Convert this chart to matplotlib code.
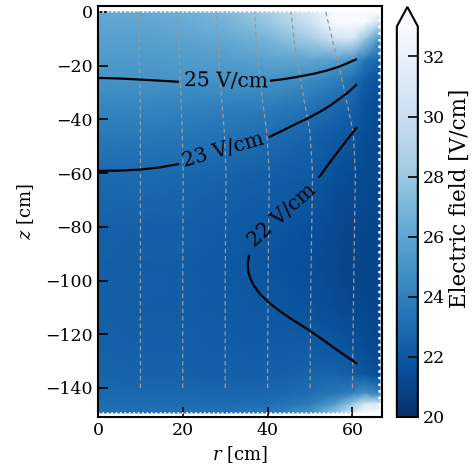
import numpy as np
import matplotlib
matplotlib.use('Agg')
import matplotlib.pyplot as plt

plt.rcParams['font.family'] = 'DejaVu Serif'
plt.rcParams['mathtext.fontset'] = 'dejavuserif'
plt.rcParams['font.size'] = 13

# grid nodes of the field map (cm)
r_nodes = [0, 10, 20, 30, 40, 50, 56, 60, 63, 66.5]
z_nodes = [0, -4, -10, -18, -25, -35, -45, -60, -80, -95, -110, -125, -135, -142, -146, -149.3]

# field values (V/cm), one list per r node, top to bottom in z
e_r0 = [26.2, 26.0, 25.7, 25.3, 25.0, 24.3, 23.7, 22.9, 22.5, 22.4, 22.4, 22.5, 22.6, 22.8, 23.0, 23.3]
e_r10 = [26.2, 26.0, 25.7, 25.3, 25.0, 24.3, 23.7, 22.95, 22.45, 22.35, 22.35, 22.45, 22.55, 22.8, 23.0, 23.3]
e_r20 = [26.5, 26.3, 25.9, 25.4, 25.0, 24.2, 23.6, 22.8, 22.4, 22.3, 22.3, 22.4, 22.5, 22.8, 23.0, 23.4]
e_r30 = [27.1, 26.8, 26.2, 25.5, 25.0, 24.0, 23.4, 22.6, 22.2, 22.1, 22.15, 22.3, 22.4, 22.7, 23.0, 23.4]
e_r40 = [28.4, 27.9, 26.9, 25.8, 25.0, 23.9, 23.1, 22.4, 22.0, 21.85, 22.05, 22.2, 22.4, 22.7, 23.1, 23.7]
e_r50 = [31.0, 30.3, 28.4, 26.0, 24.6, 23.4, 22.6, 22.15, 21.6, 21.5, 21.7, 22.2, 22.6, 23.1, 23.8, 25.0]
e_r56 = [34.0, 33.5, 30.5, 25.7, 24.0, 22.8, 22.2, 21.6, 21.3, 21.2, 21.4, 21.95, 22.6, 23.6, 25.5, 28.0]
e_r60 = [35.0, 34.5, 31.0, 25.0, 23.25, 22.5, 21.95, 21.4, 21.1, 21.0, 21.2, 21.7, 22.3, 24.0, 28.0, 31.0]
e_r63 = [35.0, 33.0, 28.0, 23.6, 22.3, 21.8, 21.5, 21.3, 21.2, 21.1, 21.2, 21.4, 21.9, 25.0, 31.0, 33.0]
e_r66 = [33.0, 30.0, 25.0, 22.6, 21.7, 21.4, 21.3, 21.2, 21.1, 21.1, 21.1, 21.2, 21.5, 24.0, 31.0, 33.0]

# contour lines (label gaps split each line)
c25_left_r = [0, 5, 10, 14.5, 18.8]
c25_left_z = [-24.6, -24.8, -25.2, -25.6, -26.0]
c25_right_r = [40.8, 43.5, 46.3, 48.7, 51, 53.8, 56.5, 58.7, 60.8]
c25_right_z = [-25.6, -25.1, -24.4, -23.7, -23.0, -21.9, -20.6, -19.2, -17.7]
c23_left_r = [0, 5, 9.9, 14.5, 18.9]
c23_left_z = [-59.2, -59.1, -58.7, -57.9, -56.7]
c23_right_r = [40.5, 43.5, 46.7, 50, 53, 55, 57, 59, 60.9]
c23_right_z = [-46.5, -44.2, -41.7, -39.2, -36.6, -34.6, -32.3, -29.9, -27.2]
c22_up_r = [60.9, 58.7, 56.5, 54.3, 52.2]
c22_up_z = [-43.2, -47.7, -52.2, -56.8, -61.4]
c22_low_r = [35.6, 35.3, 35.5, 36.0, 36.8, 38.2, 40.5, 43.0, 45.2, 49.1, 53, 56.5, 60.9]
c22_low_z = [-90.8, -94, -97, -99.5, -102, -105, -108.5, -111.5, -113.9, -117.8, -122, -126, -130.8]

# drift paths (gray dashed)
path_z = [-140, -100, -60, -45, -33, -20, -10, 0]
path_r10 = [10, 10.0, 10.0, 10.0, 10.0, 9.8, 9.7, 9.6]
path_r20 = [20, 20.0, 20.1, 19.9, 19.6, 19.3, 19.0, 18.8]
path_r30 = [30, 30.0, 30.2, 29.8, 29.2, 28.6, 28.3, 28.0]
path_r40 = [40, 40.1, 40.4, 39.8, 38.8, 37.9, 37.3, 36.9]
path_r50 = [50, 50.2, 50.6, 50.0, 48.6, 47.2, 46.2, 45.5]
path_r60 = [60, 60.3, 60.7, 60.2, 58.6, 56.8, 55.2, 53.7]

E = np.array([e_r0, e_r10, e_r20, e_r30, e_r40, e_r50, e_r56, e_r60, e_r63, e_r66]).T
R, Z = np.meshgrid(r_nodes, z_nodes)

fig = plt.figure(figsize=(4.73, 4.73), dpi=100)
ax = fig.add_axes([0.207, 0.1184, 0.6, 0.869])
cax = fig.add_axes([0.839, 0.1184, 0.0444, 0.867])

pc = ax.pcolormesh(R, Z, E, shading='gouraud', cmap='Blues_r', vmin=20, vmax=33, rasterized=True)

# mesh border (dotted)
ax.plot([0, r_nodes[-1]], [0, 0], ls=':', color='white', lw=1.2)
ax.plot([0, r_nodes[-1]], [z_nodes[-1], z_nodes[-1]], ls=':', color='white', lw=1.2)
ax.plot([r_nodes[-1] - 0.3, r_nodes[-1] - 0.3], [0, z_nodes[-1]], ls=':', color='white', lw=1.8)

for pr in [path_r10, path_r20, path_r30, path_r40, path_r50, path_r60]:
    ax.plot(pr, path_z, color='0.6', lw=0.9, ls=(0, (3.5, 2.5)))

for cr, cz in [(c25_left_r, c25_left_z), (c25_right_r, c25_right_z),
               (c23_left_r, c23_left_z), (c23_right_r, c23_right_z),
               (c22_up_r, c22_up_z), (c22_low_r, c22_low_z)]:
    ax.plot(cr, cz, color='black', lw=1.6)

ax.text(30.3, -26.0, '25 V/cm', fontsize=14.5, ha='center', va='center', rotation=-1)
ax.text(29.5, -51.6, '23 V/cm', fontsize=14.5, ha='center', va='center', rotation=16)
ax.text(43.4, -75.8, '22 V/cm', fontsize=14.5, ha='center', va='center', rotation=42)

ax.set_xlim(0, 66.9)
ax.set_ylim(-150.8, 2.2)
ax.set_xticks([0, 20, 40, 60])
ax.set_yticks([0, -20, -40, -60, -80, -100, -120, -140])
ax.set_xlabel('$r$ [cm]')
ax.set_ylabel('$z$ [cm]', labelpad=7)
ax.tick_params(direction='in', length=7, width=1.2, labelsize=12.5)
for s in ax.spines.values():
    s.set_linewidth(1.5)

cb = fig.colorbar(pc, cax=cax, extend='max')
cb.set_ticks([20, 22, 24, 26, 28, 30, 32])
cb.ax.tick_params(direction='in', length=7, width=1.2, labelsize=12.5)
cb.outline.set_linewidth(1.5)
cb.set_label('Electric field [V/cm]', fontsize=15.5)
cb.ax.yaxis.set_label_coords(2.5, 0.56)

fig.savefig('out.png', dpi=100)
